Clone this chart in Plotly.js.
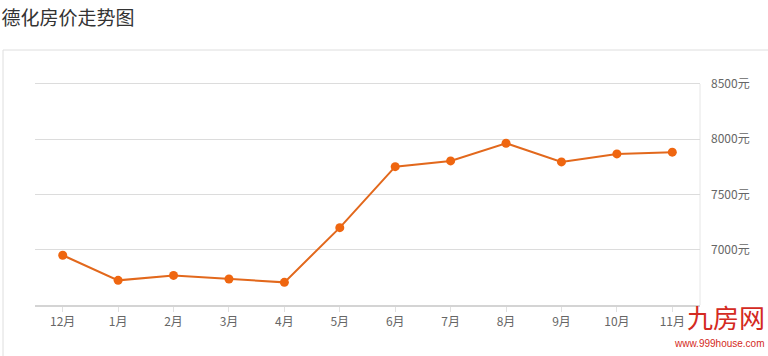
<!DOCTYPE html>
<html>
<head>
<meta charset="utf-8">
<script src="https://cdn.plot.ly/plotly-3.0.1.min.js"></script>
<style>html,body{margin:0;padding:0;background:#fff;}#chart{width:768px;height:356px;}</style>
</head>
<body>
<div id="chart"></div>
<script>
var months = ["12月","1月","2月","3月","4月","5月","6月","7月","8月","9月","10月","11月"];
var prices = [6950, 6723, 6768, 6735, 6705, 7200, 7752, 7804, 7964, 7795, 7867, 7883];
var yTicks = [7000, 7500, 8000, 8500];
var yTickLabels = ["7000元", "7500元", "8000元", "8500元"];
var chartTitle = "德化房价走势图";

var font = '"Noto Sans CJK SC", "Noto Sans", sans-serif';
var L = 35, R = 700, T = 82, B = 305;
function px(x){ return (x - L) / (R - L); }
function py(y){ return (B - y) / (B - T); }

var trace = {
  x: months, y: prices, type: 'scatter', mode: 'lines+markers',
  line: {color: '#e2681c', width: 2},
  marker: {color: '#ef6610', size: 9},
  hoverinfo: 'none'
};

var layout = {
  width: 768, height: 356,
  margin: {l: L, r: 768 - R, t: T, b: 356 - B},
  paper_bgcolor: '#ffffff', plot_bgcolor: 'rgba(0,0,0,0)',
  showlegend: false,
  font: {family: font, color: '#666', size: 12},
  title: {text: chartTitle, x: 0.002, xref: 'container', xanchor: 'left',
          y: 1 - 18/356, yref: 'container', yanchor: 'middle',
          font: {family: font, size: 19, color: '#333'}},
  xaxis: {type: 'category', range: [-0.5, 11.5], showgrid: false, zeroline: false,
          showline: true, linecolor: '#d4d4d4', linewidth: 2,
          ticks: 'outside', ticklen: 5, tickcolor: '#e0e0e0', tickwidth: 1,
          tickfont: {family: font, size: 12, color: '#666'}, fixedrange: true},
  yaxis: {range: [6500, 8518], side: 'right', tickvals: yTicks, ticktext: yTickLabels,
          showgrid: true, gridcolor: '#dcdcdc', gridwidth: 1, zeroline: false,
          showline: false, ticks: '', ticklabelstandoff: 10,
          tickfont: {family: font, size: 12, color: '#666'}, fixedrange: true},
  shapes: [
    {type: 'rect', xref: 'paper', yref: 'paper', x0: px(3), x1: px(790), y0: py(380), y1: py(50),
     line: {color: '#dedede', width: 1}, fillcolor: 'rgba(0,0,0,0)', layer: 'below'},
    {type: 'line', xref: 'paper', yref: 'y', x0: 1, x1: 1, y0: 6500, y1: 8500,
     line: {color: '#e6e6e6', width: 1}, layer: 'below'}
  ],
  annotations: [
    {xref: 'paper', yref: 'paper', x: px(767), y: py(316), xanchor: 'right', yanchor: 'middle',
     text: '九房网', showarrow: false, font: {family: font, size: 26, color: '#d42a22'}},
    {xref: 'paper', yref: 'paper', x: px(767), y: py(343), xanchor: 'right', yanchor: 'middle',
     text: 'www.999house.com', showarrow: false, font: {family: '"Liberation Sans", sans-serif', size: 10, color: '#d42a22'}}
  ]
};

Plotly.newPlot('chart', [trace], layout, {displayModeBar: false, staticPlot: true});
</script>
</body>
</html>
